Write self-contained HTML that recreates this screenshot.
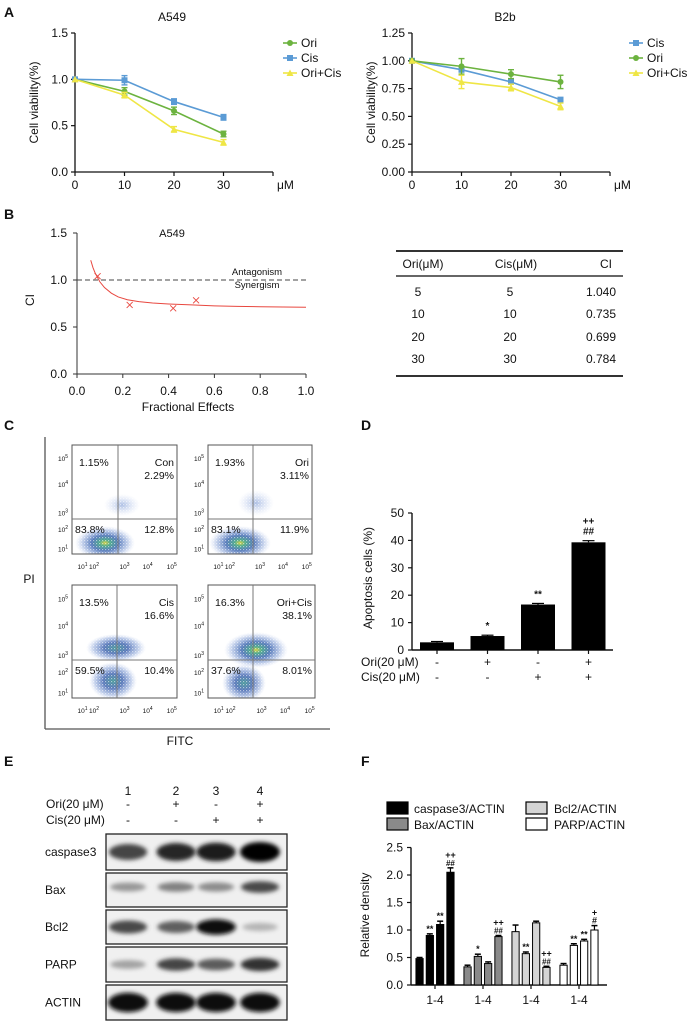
<!DOCTYPE html>
<html><head><meta charset="utf-8">
<style>
html,body{margin:0;padding:0;background:#fff;}
svg{display:block;font-family:"Liberation Sans",Arial,sans-serif;}
</style></head>
<body>
<svg id="fig" width="689" height="1025" viewBox="0 0 689 1025" xmlns="http://www.w3.org/2000/svg">
<defs>
<radialGradient id="flowG" cx="50%" cy="50%" r="50%">
<stop offset="0" stop-color="#d8d040"/>
<stop offset="0.18" stop-color="#4aa88a"/>
<stop offset="0.45" stop-color="#3560ad" stop-opacity="0.85"/>
<stop offset="0.75" stop-color="#6f8fcf" stop-opacity="0.45"/>
<stop offset="1" stop-color="#b8c8ee" stop-opacity="0"/>
</radialGradient>
<radialGradient id="flowB" cx="50%" cy="50%" r="50%">
<stop offset="0" stop-color="#4a9a9a"/>
<stop offset="0.4" stop-color="#3a5fad" stop-opacity="0.85"/>
<stop offset="0.75" stop-color="#7090d0" stop-opacity="0.45"/>
<stop offset="1" stop-color="#b8c8ee" stop-opacity="0"/>
</radialGradient>
<radialGradient id="flowS" cx="50%" cy="50%" r="50%">
<stop offset="0" stop-color="#6f8fd0" stop-opacity="0.6"/>
<stop offset="1" stop-color="#b8c8ee" stop-opacity="0"/>
</radialGradient>
<pattern id="speckle" width="3" height="3" patternUnits="userSpaceOnUse">
<rect x="0" y="0" width="1.2" height="1.2" fill="#fff" fill-opacity="0.55"/>
<rect x="1.7" y="1.6" width="0.9" height="0.9" fill="#fff" fill-opacity="0.4"/>
</pattern>
<filter id="blur" x="-50%" y="-50%" width="200%" height="200%"><feGaussianBlur stdDeviation="2.2"/></filter>
</defs>
</svg>
<script>
// ---------- data ----------
const concA = [0, 10, 20, 30];
const a549Ori = [1.0, 0.87, 0.66, 0.41];
const a549OriErr = [0.0, 0.04, 0.04, 0.03];
const a549Cis = [1.0, 0.99, 0.76, 0.59];
const a549CisErr = [0.0, 0.05, 0.03, 0.03];
const a549Comb = [1.0, 0.83, 0.46, 0.32];
const a549CombErr = [0.0, 0.03, 0.03, 0.03];
const b2bCis = [1.0, 0.92, 0.81, 0.65];
const b2bCisErr = [0.0, 0.02, 0.02, 0.02];
const b2bOri = [1.0, 0.95, 0.88, 0.81];
const b2bOriErr = [0.0, 0.07, 0.04, 0.06];
const b2bComb = [1.0, 0.81, 0.76, 0.59];
const b2bCombErr = [0.0, 0.06, 0.03, 0.03];
const ciPointsFE = [0.09, 0.23, 0.42, 0.52];
const ciPointsCI = [1.04, 0.735, 0.699, 0.784];
const ciCurveFE = [0.06, 0.07, 0.08, 0.1, 0.12, 0.15, 0.18, 0.22, 0.27, 0.33, 0.4, 0.5, 0.6, 0.7, 0.8, 0.9, 1.0];
const ciCurveCI = [1.21, 1.13, 1.07, 0.98, 0.92, 0.86, 0.82, 0.79, 0.77, 0.755, 0.745, 0.735, 0.725, 0.72, 0.716, 0.713, 0.71];
const tableOri = ["5", "10", "20", "30"];
const tableCis = ["5", "10", "20", "30"];
const tableCI = ["1.040", "0.735", "0.699", "0.784"];
const apopValues = [2.8, 5.1, 16.6, 39.3];
const apopErr = [0.3, 0.3, 0.4, 0.6];
const apopMarks = [["",""], ["*",""], ["**",""], ["##","++"]];
const apopOri = ["-", "+", "-", "+"];
const apopCis = ["-", "-", "+", "+"];
const densGroups = ["caspase3/ACTIN", "Bax/ACTIN", "Bcl2/ACTIN", "PARP/ACTIN"];
const densCasp = [0.48, 0.9, 1.1, 2.05];
const densBax = [0.33, 0.52, 0.39, 0.88];
const densBcl2 = [0.97, 0.57, 1.13, 0.32];
const densParp = [0.36, 0.72, 0.8, 1.0];
const densCaspErr = [0.02, 0.03, 0.06, 0.08];
const densBaxErr = [0.03, 0.04, 0.03, 0.02];
const densBcl2Err = [0.12, 0.03, 0.03, 0.02];
const densParpErr = [0.03, 0.03, 0.03, 0.08];
const densMarks = [
  [[""],["**"],["**"],["##","++"]],
  [[""],["*"],[""],["##","++"]],
  [[""],["**"],[""],["##","++"]],
  [[""],["**"],["**"],["#","+"]]
];
const blotNames = ["caspase3", "Bax", "Bcl2", "PARP", "ACTIN"];
const blotCasp = [0.72, 0.85, 0.9, 1.0];
const blotBax = [0.35, 0.45, 0.4, 0.7];
const blotBcl2 = [0.7, 0.6, 0.95, 0.22];
const blotParp = [0.3, 0.72, 0.62, 0.8];
const blotActin = [0.97, 0.95, 0.95, 0.95];

// ---------- helpers ----------
const NS = 'http://www.w3.org/2000/svg';
const svg = document.getElementById('fig');
function el(tag, attrs, name, parent) {
  const e = document.createElementNS(NS, tag);
  for (const k in attrs) e.setAttribute(k, attrs[k]);
  
  
  (parent || svg).appendChild(e);
  return e;
}
function txt(x, y, s, name, size, anchor, extra, parent) {
  const a = {x: x, y: y, 'font-size': size || 12, 'text-anchor': anchor || 'middle', fill: '#111'};
  if (extra) for (const k in extra) a[k] = extra[k];
  const t = el('text', a, name, parent);
  t.textContent = s;
  return t;
}
function lin(d0, d1, r0, r1) { return v => r0 + (v - d0) * (r1 - r0) / (d1 - d0); }
function line(x1, y1, x2, y2, name, w, col, parent, dash) {
  const a = {x1: x1, y1: y1, x2: x2, y2: y2, stroke: col || '#111', 'stroke-width': w || 1.2};
  if (dash) a['stroke-dasharray'] = dash;
  return el('line', a, name, parent);
}

// panel letters
[["A",4,17],["B",4,219],["C",4,430],["D",361,430],["E",4,766],["F",361,766]].forEach(p => {
  txt(p[1], p[2], p[0], 'panel-label-' + p[0].toLowerCase(), 14, 'start', {'font-weight': 'bold'});
});

// ---------- Panel A ----------
function marker(g, type, x, y, col, name) {
  if (type === 'circle') el('circle', {cx: x, cy: y, r: 3, fill: col}, name, g);
  else if (type === 'square') el('rect', {x: x - 3, y: y - 3, width: 6, height: 6, fill: col}, name, g);
  else el('polygon', {points: `${x},${y-3.5} ${x+3.5},${y+3} ${x-3.5},${y+3}`, fill: col}, name, g);
}
function lineChart(cfg) {
  const g = el('g', {}, cfg.name);
  const xs = lin(0, 40, cfg.x0, cfg.x1), ys = lin(0, cfg.ymax, cfg.y0, cfg.y1);
  line(cfg.x0, cfg.y0, cfg.x0, cfg.y1, 'y-axis', 1.3, '#111', g);
  line(cfg.x0, cfg.y0, cfg.x1, cfg.y0, 'x-axis', 1.3, '#111', g);
  cfg.yticks.forEach((t, i) => {
    line(cfg.x0 - 4, ys(t), cfg.x0, ys(t), 'y-tick', 1.2, '#111', g);
    txt(cfg.x0 - 7, ys(t) + 4, cfg.ylabels[i], 'y-tick-label', 12, 'end', null, g);
  });
  [0, 10, 20, 30, 40].forEach((t, i) => {
    line(xs(t), cfg.y0, xs(t), cfg.y0 + 4, 'x-tick', 1.2, '#111', g);
    txt(xs(t) + (i === 4 ? 4 : 0), cfg.y0 + 17, i === 4 ? 'μM' : String(t), 'x-tick-label', 12, i === 4 ? 'start' : 'middle', null, g);
  });
  txt(cfg.tx, 21, cfg.title, 'chart-title', 12, 'middle', null, g);
  txt(0, 0, 'Cell viability(%)', 'y-axis-title', 12, 'middle', {transform: `translate(${cfg.x0 - 37},${(cfg.y0 + cfg.y1) / 2}) rotate(-90)`}, g);
  cfg.series.forEach((s, si) => {
    const sg = el('g', {}, 'series-' + s.label.toLowerCase().replace('+', '-'), g);
    const pts = concA.map((c, i) => `${xs(c)},${ys(s.v[i])}`).join(' ');
    el('polyline', {points: pts, fill: 'none', stroke: s.col, 'stroke-width': 1.6}, 'series-line', sg);
    concA.forEach((c, i) => {
      if (s.e[i] > 0) {
        line(xs(c), ys(s.v[i] - s.e[i]), xs(c), ys(s.v[i] + s.e[i]), 'error-bar', 1.4, s.col, sg);
        line(xs(c) - 3, ys(s.v[i] + s.e[i]), xs(c) + 3, ys(s.v[i] + s.e[i]), 'error-cap', 1.4, s.col, sg);
        line(xs(c) - 3, ys(s.v[i] - s.e[i]), xs(c) + 3, ys(s.v[i] - s.e[i]), 'error-cap', 1.4, s.col, sg);
      }
      marker(sg, s.m, xs(c), ys(s.v[i]), s.col, 'data-point');
    });
    const ly = 43 + si * 15;
    const lg = el('g', {}, 'legend-entry', g);
    line(cfg.lx - 7, ly, cfg.lx + 7, ly, 'legend-line', 1.6, s.col, lg);
    marker(lg, s.m, cfg.lx, ly, s.col, 'legend-marker');
    txt(cfg.lx + 11, ly + 4, s.label, 'legend-label', 12, 'start', null, lg);
  });
}
const GREEN = '#6cb33f', BLUE = '#5b9bd5', YELLOW = '#efe645';
lineChart({name: 'chart-a549-viability', x0: 75, x1: 273, y0: 172, y1: 33, ymax: 1.5,
  yticks: [0, 0.5, 1.0, 1.5], ylabels: ['0.0', '0.5', '1.0', '1.5'], tx: 172, title: 'A549', lx: 290,
  series: [{label: 'Ori', v: a549Ori, e: a549OriErr, col: GREEN, m: 'circle'},
           {label: 'Cis', v: a549Cis, e: a549CisErr, col: BLUE, m: 'square'},
           {label: 'Ori+Cis', v: a549Comb, e: a549CombErr, col: YELLOW, m: 'tri'}]});
lineChart({name: 'chart-b2b-viability', x0: 412, x1: 610, y0: 172, y1: 33, ymax: 1.25,
  yticks: [0, 0.25, 0.5, 0.75, 1.0, 1.25], ylabels: ['0.00', '0.25', '0.50', '0.75', '1.00', '1.25'], tx: 505, title: 'B2b', lx: 636,
  series: [{label: 'Cis', v: b2bCis, e: b2bCisErr, col: BLUE, m: 'square'},
           {label: 'Ori', v: b2bOri, e: b2bOriErr, col: GREEN, m: 'circle'},
           {label: 'Ori+Cis', v: b2bComb, e: b2bCombErr, col: YELLOW, m: 'tri'}]});

// ---------- Panel B ----------
(function () {
  const g = el('g', {}, 'chart-ci');
  const xs = lin(0, 1, 77, 306), ys = lin(0, 1.5, 374, 233);
  line(77, 374, 77, 233, 'y-axis', 1, '#333', g);
  line(77, 374, 306, 374, 'x-axis', 1, '#333', g);
  [0, 0.5, 1.0, 1.5].forEach(t => {
    line(73, ys(t), 77, ys(t), 'y-tick', 1, '#333', g);
    txt(67, ys(t) + 4, t.toFixed(1), 'y-tick-label', 12, 'end', null, g);
  });
  [0, 0.2, 0.4, 0.6, 0.8, 1.0].forEach(t => {
    line(xs(t), 374, xs(t), 378, 'x-tick', 1, '#333', g);
    txt(xs(t), 395, t.toFixed(1), 'x-tick-label', 12, 'middle', null, g);
  });
  txt(188, 411, 'Fractional Effects', 'x-axis-title', 12, 'middle', null, g);
  txt(0, 0, 'CI', 'y-axis-title', 12, 'middle', {transform: 'translate(34,300) rotate(-90)'}, g);
  txt(172, 237, 'A549', 'chart-title', 11, 'middle', null, g);
  line(77, ys(1), 306, ys(1), 'additivity-line', 1, '#444', g, '5,3');
  txt(257, 275, 'Antagonism', 'antagonism-label', 9.5, 'middle', null, g);
  txt(257, 288, 'Synergism', 'synergism-label', 9.5, 'middle', null, g);
  el('polyline', {points: ciCurveFE.map((f, i) => `${xs(f)},${ys(ciCurveCI[i])}`).join(' '), fill: 'none', stroke: '#e8473f', 'stroke-width': 1}, 'ci-curve', g);
  ciPointsFE.forEach((f, i) => {
    const x = xs(f), y = ys(ciPointsCI[i]);
    line(x - 3, y - 3, x + 3, y + 3, 'ci-point', 0.9, '#e8473f', g);
    line(x - 3, y + 3, x + 3, y - 3, 'ci-point', 0.9, '#e8473f', g);
  });
  const t = el('g', {}, 'ci-table');
  line(396, 251, 623, 251, 'table-top-rule', 2, '#333', t);
  line(396, 276, 623, 276, 'table-header-rule', 1.5, '#333', t);
  line(396, 376, 623, 376, 'table-bottom-rule', 2, '#333', t);
  txt(423, 268, 'Ori(μM)', 'header-ori', 12, 'middle', null, t);
  txt(516, 268, 'Cis(μM)', 'header-cis', 12, 'middle', null, t);
  txt(606, 268, 'CI', 'header-ci', 12, 'middle', null, t);
  [296, 318, 341, 363].forEach((y, i) => {
    txt(418, y, tableOri[i], 'cell-ori', 12, 'middle', null, t);
    txt(510, y, tableCis[i], 'cell-cis', 12, 'middle', null, t);
    txt(616, y, tableCI[i], 'cell-ci', 12, 'end', null, t);
  });
})();

// ---------- Panel C ----------
(function () {
  const g = el('g', {}, 'flow-cytometry');
  line(45, 437, 45, 729, 'pi-axis', 1.3, '#555', g);
  line(45, 729, 330, 729, 'fitc-axis', 1.3, '#555', g);
  txt(0, 0, 'PI', 'pi-label', 12, 'middle', {transform: 'translate(29,583)'}, g);
  txt(180, 745, 'FITC', 'fitc-label', 12, 'middle', null, g);
  const plots = [
    {name: 'con', x: 72, y: 445, w: 105, h: 109, qx: 118, qy: 519, tl: '1.15%', tr1: 'Con', tr2: '2.29%', bl: '83.8%', br: '12.8%',
     blobs: [[105, 543, 30, 17, 'flowG'], [122, 505, 18, 11, 'flowS']]},
    {name: 'ori', x: 208, y: 445, w: 104, h: 109, qx: 253, qy: 519, tl: '1.93%', tr1: 'Ori', tr2: '3.11%', bl: '83.1%', br: '11.9%',
     blobs: [[240, 543, 31, 17, 'flowG'], [256, 503, 18, 13, 'flowS']]},
    {name: 'cis', x: 72, y: 585, w: 105, h: 113, qx: 117, qy: 660, tl: '13.5%', tr1: 'Cis', tr2: '16.6%', bl: '59.5%', br: '10.4%',
     blobs: [[113, 681, 24, 19, 'flowB'], [116, 648, 30, 14, 'flowB']]},
    {name: 'ori-cis', x: 208, y: 585, w: 107, h: 113, qx: 253, qy: 660, tl: '16.3%', tr1: 'Ori+Cis', tr2: '38.1%', bl: '37.6%', br: '8.01%',
     blobs: [[244, 683, 22, 19, 'flowB'], [256, 650, 32, 18, 'flowG']]}
  ];
  const ly = [0.12, 0.36, 0.62, 0.77, 0.95];
  const lx = [0.1, 0.21, 0.5, 0.72, 0.95];
  plots.forEach((p, pi) => {
    const pg = el('g', {}, 'flow-plot-' + p.name, g);
    const cp = el('clipPath', {id: 'clip' + pi}, 'plot-clip', pg);
    el('rect', {x: p.x, y: p.y, width: p.w, height: p.h}, 'clip-rect', cp);
    const cg = el('g', {'clip-path': `url(#clip${pi})`}, 'cell-clusters', pg);
    p.blobs.forEach(b => {
      el('ellipse', {cx: b[0], cy: b[1], rx: b[2], ry: b[3], fill: `url(#${b[4]})`}, 'cell-cluster', cg);
      el('ellipse', {cx: b[0], cy: b[1], rx: b[2], ry: b[3], fill: 'url(#speckle)'}, 'cluster-texture', cg);
    });
    el('rect', {x: p.x, y: p.y, width: p.w, height: p.h, fill: 'none', stroke: '#555', 'stroke-width': 1}, 'plot-frame', pg);
    line(p.qx, p.y, p.qx, p.y + p.h, 'quadrant-vline', 1, '#777', pg);
    line(p.x, p.qy, p.x + p.w, p.qy, 'quadrant-hline', 1, '#777', pg);
    txt(p.x + 7, p.y + 21, p.tl, 'quadrant-ul', 10.5, 'start', null, pg);
    txt(p.x + p.w - 3, p.y + 21, p.tr1, 'sample-name', 10.5, 'end', null, pg);
    txt(p.x + p.w - 3, p.y + 34, p.tr2, 'quadrant-ur', 10.5, 'end', null, pg);
    txt(p.x + 3, p.qy + 14, p.bl, 'quadrant-ll', 10.5, 'start', null, pg);
    txt(p.x + p.w - 3, p.qy + 14, p.br, 'quadrant-lr', 10.5, 'end', null, pg);
    [5, 4, 3, 2, 1].forEach((e, i) => {
      const t = txt(p.x - 4, p.y + p.h * ly[i] + 3, '10', 'y-log-tick', 6.5, 'end', null, pg);
      const s = document.createElementNS(NS, 'tspan'); s.setAttribute('dy', '-3'); s.setAttribute('font-size', '5'); s.textContent = e; t.appendChild(s);
    });
    [1, 2, 3, 4, 5].forEach((e, i) => {
      const t = txt(p.x + p.w * lx[i], p.y + p.h + 15, '10', 'x-log-tick', 6.5, 'middle', null, pg);
      const s = document.createElementNS(NS, 'tspan'); s.setAttribute('dy', '-3'); s.setAttribute('font-size', '5'); s.textContent = e; t.appendChild(s);
    });
  });
})();

// ---------- Panel D ----------
(function () {
  const g = el('g', {}, 'chart-apoptosis');
  const ys = lin(0, 50, 650, 513);
  const xc = i => 437 + i * 50.5;
  line(412, 650, 412, 513, 'y-axis', 1.4, '#111', g);
  line(412, 650, 613, 650, 'x-axis', 1.4, '#111', g);
  [0, 10, 20, 30, 40, 50].forEach(t => {
    line(408, ys(t), 412, ys(t), 'y-tick', 1.2, '#111', g);
    txt(404, ys(t) + 4, String(t), 'y-tick-label', 12, 'end', null, g);
  });
  txt(0, 0, 'Apoptosis cells (%)', 'y-axis-title', 12, 'middle', {transform: 'translate(372,578) rotate(-90)'}, g);
  apopValues.forEach((v, i) => {
    line(xc(i), 650, xc(i), 654, 'x-tick', 1.2, '#111', g);
    el('rect', {x: xc(i) - 17, y: ys(v), width: 34, height: 650 - ys(v), fill: '#000'}, 'bar-group-' + (i + 1), g);
    line(xc(i), ys(v), xc(i), ys(v + apopErr[i]), 'error-bar', 1.2, '#000', g);
    line(xc(i) - 6, ys(v + apopErr[i]), xc(i) + 6, ys(v + apopErr[i]), 'error-cap', 1.2, '#000', g);
    if (apopMarks[i][0]) txt(xc(i), ys(v + apopErr[i]) - 6, apopMarks[i][0], 'significance-mark', 10, 'middle', {'font-weight': 'bold'}, g);
    if (apopMarks[i][1]) txt(xc(i), ys(v + apopErr[i]) - 16, apopMarks[i][1], 'significance-mark', 10, 'middle', {'font-weight': 'bold'}, g);
    txt(xc(i), 666, apopOri[i], 'ori-sign', 12, 'middle', null, g);
    txt(xc(i), 681, apopCis[i], 'cis-sign', 12, 'middle', null, g);
  });
  txt(361, 666, 'Ori(20 μM)', 'ori-row-label', 12, 'start', null, g);
  txt(361, 681, 'Cis(20 μM)', 'cis-row-label', 12, 'start', null, g);
})();

// ---------- Panel E ----------
(function () {
  const g = el('g', {}, 'western-blot');
  const lanes = [128, 176, 216, 260];
  ['1', '2', '3', '4'].forEach((l, i) => {
    txt(lanes[i], 795, l, 'lane-number', 12, 'middle', null, g);
    txt(lanes[i], 808, ['-', '+', '-', '+'][i], 'ori-sign', 12, 'middle', null, g);
    txt(lanes[i], 824, ['-', '-', '+', '+'][i], 'cis-sign', 12, 'middle', null, g);
  });
  txt(46, 808, 'Ori(20 μM)', 'ori-row-label', 12, 'start', null, g);
  txt(46, 824, 'Cis(20 μM)', 'cis-row-label', 12, 'start', null, g);
  const rows = [[834, 870, blotCasp, 14], [873, 907, blotBax, 8], [910, 944, blotBcl2, 10], [947, 982, blotParp, 9], [985, 1020, blotActin, 14]];
  rows.forEach((r, ri) => {
    const bg = el('g', {}, 'blot-' + blotNames[ri].toLowerCase(), g);
    el('rect', {x: 106, y: r[0], width: 181, height: r[1] - r[0], fill: '#f0f0f0', stroke: '#222', 'stroke-width': 1.3}, 'blot-frame', bg);
    const cy = (r[0] + r[1]) / 2 - (ri === 1 ? 3 : 0);
    r[2].forEach((v, i) => {
      const gray = Math.round(230 - v * 225);
      el('ellipse', {cx: lanes[i], cy: cy, rx: 17 + v * 3, ry: 3 + v * r[3] * 0.5, fill: `rgb(${gray},${gray},${gray})`, filter: 'url(#blur)'}, 'band', bg);
    });
    txt(45, (r[0] + r[1]) / 2 + 4, blotNames[ri], 'blot-label', 12, 'start', null, g);
  });
})();

// ---------- Panel F ----------
(function () {
  const g = el('g', {}, 'chart-relative-density');
  const ys = lin(0, 2.5, 985, 847.5);
  const gc = i => 435 + i * 48;
  const fills = ['#000', '#8a8a8a', '#d4d4d4', '#fff'];
  const series = [densCasp, densBax, densBcl2, densParp];
  const errs = [densCaspErr, densBaxErr, densBcl2Err, densParpErr];
  const leg = [[387, 802, 414], [387, 818, 414], [526, 802, 554], [526, 818, 554]];
  densGroups.forEach((n, i) => {
    const lg = el('g', {}, 'legend-entry', g);
    el('rect', {x: leg[i][0], y: leg[i][1], width: 21, height: 12, fill: fills[i], stroke: '#000', 'stroke-width': 1.2}, 'legend-swatch', lg);
    txt(leg[i][2], leg[i][1] + 11, n, 'legend-label', 12, 'start', null, lg);
  });
  line(411, 985, 411, 847.5, 'y-axis', 1.4, '#111', g);
  line(411, 985, 607, 985, 'x-axis', 1.4, '#111', g);
  [0, 0.5, 1.0, 1.5, 2.0, 2.5].forEach(t => {
    line(407, ys(t), 411, ys(t), 'y-tick', 1.2, '#111', g);
    txt(403, ys(t) + 4, t.toFixed(1), 'y-tick-label', 12, 'end', null, g);
  });
  txt(0, 0, 'Relative density', 'y-axis-title', 12, 'middle', {transform: 'translate(369,915) rotate(-90)'}, g);
  series.forEach((vals, si) => {
    const sg = el('g', {}, 'bar-group-' + densGroups[si].split('/')[0].toLowerCase(), g);
    line(gc(si), 985, gc(si), 989, 'x-tick', 1.2, '#111', sg);
    txt(gc(si), 1004, '1-4', 'x-tick-label', 12, 'middle', null, sg);
    vals.forEach((v, i) => {
      const x = gc(si) + (i - 1.5) * 10.3;
      el('rect', {x: x - 3.6, y: ys(v), width: 7.2, height: 985 - ys(v), fill: fills[si], stroke: '#000', 'stroke-width': 1}, 'bar', sg);
      const top = ys(v + errs[si][i]);
      line(x, ys(v), x, top, 'error-bar', 1.2, '#000', sg);
      line(x - 3, top, x + 3, top, 'error-cap', 1.5, '#000', sg);
      const m = densMarks[si][i];
      if (m[0]) txt(x, top - 2, m[0], 'significance-mark', m[0].length > 1 && m[0][0] === '#' ? 8 : 9, 'middle', {'font-weight': 'bold'}, sg);
      if (m[1]) txt(x, top - 10, m[1], 'significance-mark', 9, 'middle', {'font-weight': 'bold'}, sg);
    });
  });
})();
</script>
</body></html>
